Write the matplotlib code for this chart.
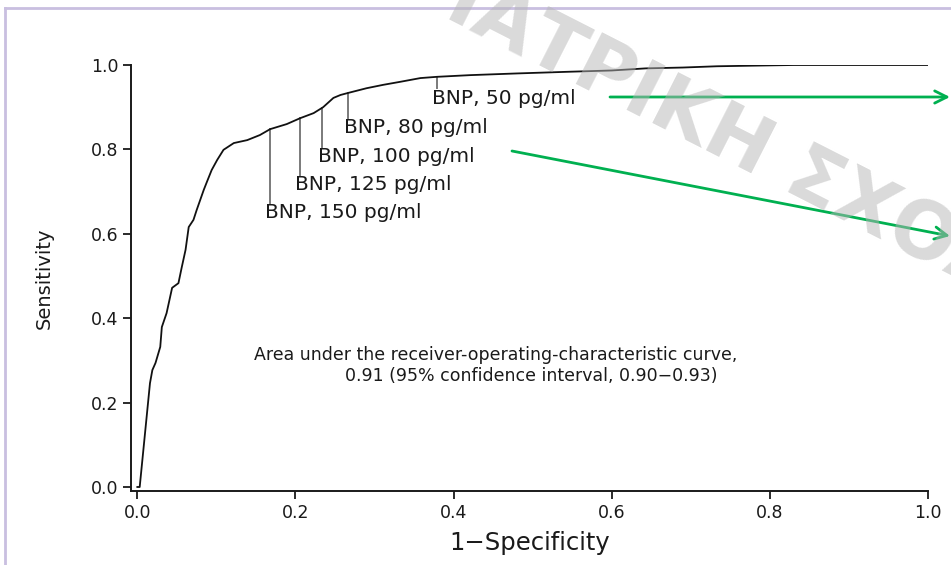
"""ROC curve of BNP for diagnosing heart failure, with cut-off labels."""

import matplotlib.pyplot as plt
import numpy as np
from matplotlib.lines import Line2D

# ROC curve
fpr = [0.0, 0.003, 0.016, 0.019, 0.023, 0.029, 0.031, 0.037, 0.044, 0.052,
       0.056, 0.061, 0.065, 0.071, 0.075, 0.084, 0.088, 0.094, 0.101, 0.109,
       0.122, 0.139, 0.155, 0.168, 0.189, 0.206, 0.223, 0.235, 0.248, 0.257,
       0.267, 0.290, 0.311, 0.332, 0.358, 0.379, 0.421, 0.480, 0.546, 0.600,
       0.643, 0.690, 0.733, 0.830, 0.900, 1.0]
tpr = [0.0, 0.0, 0.246, 0.277, 0.294, 0.332, 0.379, 0.412, 0.472, 0.483,
       0.519, 0.562, 0.616, 0.633, 0.656, 0.704, 0.723, 0.751, 0.775, 0.799,
       0.815, 0.822, 0.834, 0.848, 0.860, 0.874, 0.886, 0.900, 0.922, 0.929,
       0.934, 0.945, 0.953, 0.960, 0.969, 0.972, 0.976, 0.980, 0.984, 0.987,
       0.992, 0.994, 0.997, 1.0, 1.0, 1.0]

# BNP cut-offs and their 1-specificity on the curve
cutoffs = [50, 80, 100, 125, 150]
cutoff_fpr = [0.379, 0.267, 0.234, 0.206, 0.168]
label_y = [0.921, 0.851, 0.782, 0.716, 0.650]

ticks = [0.0, 0.2, 0.4, 0.6, 0.8, 1.0]
auc_text = ["Area under the receiver-operating-characteristic curve,",
            "0.91 (95% confidence interval, 0.90\u22120.93)"]

W, H = 951, 565

plt.rcParams["font.family"] = ["DejaVu Sans"]

fig = plt.figure(figsize=(W / 100, H / 100), dpi=100)
ax = fig.add_axes([131 / W, 1 - 491 / H, (928 - 131) / W, (491 - 65) / H])

ax.plot(fpr, tpr, color="#111111", linewidth=1.3, zorder=3)

for c, x, ly in zip(cutoffs, cutoff_fpr, label_y):
    top = np.interp(x, fpr, tpr)
    ax.plot([x, x], [top, ly + 0.024], color="#7a7a7a", linewidth=1.4, zorder=2)
    ax.text(x - 0.006, ly, f"BNP, {c} pg/ml", ha="left", va="center",
            fontsize=14.5, color="#1a1a1a")

ax.text(0.147, 0.313, auc_text[0], ha="left", va="center", fontsize=12.5, color="#1a1a1a")
ax.text(0.498, 0.263, auc_text[1], ha="center", va="center", fontsize=12.5, color="#1a1a1a")

ax.set_xlim(-0.008, 1.0)
ax.set_ylim(-0.0095, 1.0)
ax.set_xticks(ticks, [f"{t:.1f}" for t in ticks])
ax.set_yticks(ticks, [f"{t:.1f}" for t in ticks])
ax.tick_params(length=6, width=1.3, labelsize=12.5, pad=3, colors="#1a1a1a")
for side in ("top", "right"):
    ax.spines[side].set_visible(False)
for side in ("left", "bottom"):
    ax.spines[side].set_linewidth(1.4)
    ax.spines[side].set_color("#1a1a1a")
ax.set_xlabel("1\u2212Specificity", fontsize=17.5, labelpad=7, color="#1a1a1a")
ax.set_ylabel("Sensitivity", fontsize=14, labelpad=27, color="#1a1a1a")

# green pointer arrows
green = "#00b050"
for (x0, y0), (x1, y1) in [((610, 97), (950, 97)), ((512, 151), (950, 236))]:
    fig.add_artist(plt.Annotation(
        "", xy=(x1, H - y1), xytext=(x0, H - y0),
        xycoords="figure pixels", textcoords="figure pixels",
        arrowprops=dict(arrowstyle="->", color=green, lw=2, mutation_scale=22,
                        shrinkA=0, shrinkB=0)))

# lavender frame
frame = "#c9bfe0"
fig.add_artist(Line2D([5 / W, 1], [1 - 8 / H, 1 - 8 / H], color=frame, lw=2,
                      transform=fig.transFigure))
fig.add_artist(Line2D([5 / W, 5 / W], [0, 1 - 8 / H], color=frame, lw=2,
                      transform=fig.transFigure))

# watermark
fig.text(757 / W, 1 - 152 / H, "\u0399\u0391\u03a4\u03a1\u0399\u039a\u0397 \u03a3\u03a7\u039f\u039b\u0397",
         fontsize=56, fontweight="bold", color="#b5b5b5", alpha=0.5,
         rotation=-27, rotation_mode="anchor", ha="center", va="center", zorder=10)

fig.savefig("out.png", dpi=100)
